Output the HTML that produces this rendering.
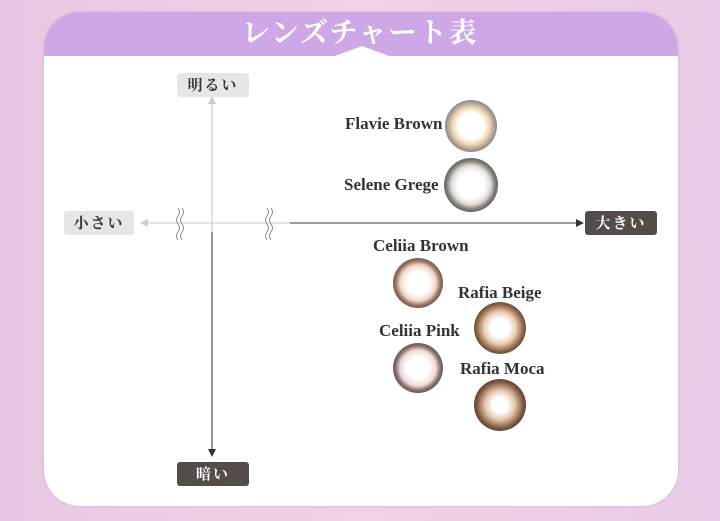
<!DOCTYPE html>
<html><head><meta charset="utf-8"><style>
body{margin:0;width:720px;height:521px;overflow:hidden;background:linear-gradient(90deg,#e6c8e4 0%,#f0d2e6 50%,#e8cbe6 100%);font-family:"Liberation Serif","Noto Serif CJK JP",serif;position:relative}
.card{position:absolute;left:44px;top:12px;width:634px;height:494px;background:#fff;border-radius:36px;overflow:hidden;box-shadow:0 0 2px #c9a6e0}
.hdr{position:absolute;left:0;top:0;width:634px;height:44px;background:#cea8e6}
.title{position:absolute;left:0;width:720px;top:11px;text-align:center;color:#fff;font-size:28px;font-weight:bold;letter-spacing:2px;font-family:"Noto Serif CJK JP","Noto Serif CJK SC",serif}
.pill{position:absolute;height:24px;border-radius:3px;font-family:"Noto Serif CJK JP","Noto Serif CJK SC",serif;font-size:15px;font-weight:bold;line-height:24px;text-align:center;letter-spacing:2px}
.lt{background:#e6e6e6;color:#333}.dk{background:#534c48;color:#fff}
.lbl{position:absolute;font-size:17px;font-weight:bold;color:#333;white-space:nowrap}
</style></head><body>
<div class="card"><div class="hdr"></div></div>
<svg style="position:absolute;left:0;top:0" width="720" height="521">
<polygon points="335,56 362,46 389,56" fill="#fff"/>
<line x1="146" y1="223" x2="580" y2="223" stroke="#d4d4d4" stroke-width="1.2"/>
<line x1="290" y1="223" x2="580" y2="223" stroke="#666" stroke-width="1.2"/>
<polygon points="140,223 148,219 148,227" fill="#ccc"/>
<polygon points="584,223 576,219 576,227" fill="#333"/>
<line x1="212" y1="100" x2="212" y2="452" stroke="#ccc" stroke-width="1.2"/>
<line x1="212" y1="232" x2="212" y2="452" stroke="#555" stroke-width="1.2"/>
<polygon points="212,96 208,104 216,104" fill="#ccc"/>
<polygon points="212,457 208,449 216,449" fill="#333"/>
<g fill="none" stroke="#888" stroke-width="1">
<path d="M178,208 q3,4 0,8 q-3,4 0,8 q3,4 0,8 q-3,4 0,8"/><path d="M182,208 q3,4 0,8 q-3,4 0,8 q3,4 0,8 q-3,4 0,8"/>
<path d="M267,208 q3,4 0,8 q-3,4 0,8 q3,4 0,8 q-3,4 0,8"/><path d="M271,208 q3,4 0,8 q-3,4 0,8 q3,4 0,8 q-3,4 0,8"/>
</g>
<defs>
<radialGradient id="g1"><stop offset="0.5" stop-color="#fff"/><stop offset="0.72" stop-color="#f0d6b0"/><stop offset="0.88" stop-color="#b0a698"/><stop offset="1" stop-color="#8a8886"/></radialGradient>
<radialGradient id="g2"><stop offset="0.5" stop-color="#fff"/><stop offset="0.72" stop-color="#e4dcd4"/><stop offset="0.9" stop-color="#807c7a"/><stop offset="1" stop-color="#666"/></radialGradient>
<radialGradient id="g3"><stop offset="0.45" stop-color="#fff"/><stop offset="0.72" stop-color="#f0d8c8"/><stop offset="0.88" stop-color="#9a7868"/><stop offset="1" stop-color="#7a5a4c"/></radialGradient>
<radialGradient id="g4"><stop offset="0.35" stop-color="#fff"/><stop offset="0.62" stop-color="#ecccb0"/><stop offset="0.9" stop-color="#8a6248"/><stop offset="1" stop-color="#70503c"/></radialGradient>
<radialGradient id="g5"><stop offset="0.45" stop-color="#fff"/><stop offset="0.72" stop-color="#f0d8d8"/><stop offset="0.88" stop-color="#8a7470"/><stop offset="1" stop-color="#6a5858"/></radialGradient>
<radialGradient id="g6"><stop offset="0.3" stop-color="#fff"/><stop offset="0.58" stop-color="#e4c4a8"/><stop offset="0.9" stop-color="#7a5440"/><stop offset="1" stop-color="#62443a"/></radialGradient>
</defs>
<circle cx="471" cy="126" r="26" fill="url(#g1)"/>
<circle cx="471" cy="185" r="27" fill="url(#g2)"/>
<circle cx="418" cy="283" r="25" fill="url(#g3)"/>
<circle cx="500" cy="328" r="26" fill="url(#g4)"/>
<circle cx="418" cy="368" r="25" fill="url(#g5)"/>
<circle cx="500" cy="405" r="26" fill="url(#g6)"/>
</svg>
<div class="title">レンズチャート表</div>
<div class="pill lt" style="left:177px;top:73px;width:72px">明るい</div>
<div class="pill lt" style="left:64px;top:211px;width:70px">小さい</div>
<div class="pill dk" style="left:585px;top:211px;width:72px">大きい</div>
<div class="pill dk" style="left:177px;top:462px;width:72px">暗い</div>
<div class="lbl" style="left:345px;top:114px">Flavie Brown</div>
<div class="lbl" style="left:344px;top:175px">Selene Grege</div>
<div class="lbl" style="left:373px;top:236px">Celiia Brown</div>
<div class="lbl" style="left:458px;top:283px">Rafia Beige</div>
<div class="lbl" style="left:379px;top:321px">Celiia Pink</div>
<div class="lbl" style="left:460px;top:359px">Rafia Moca</div>
</body></html>
